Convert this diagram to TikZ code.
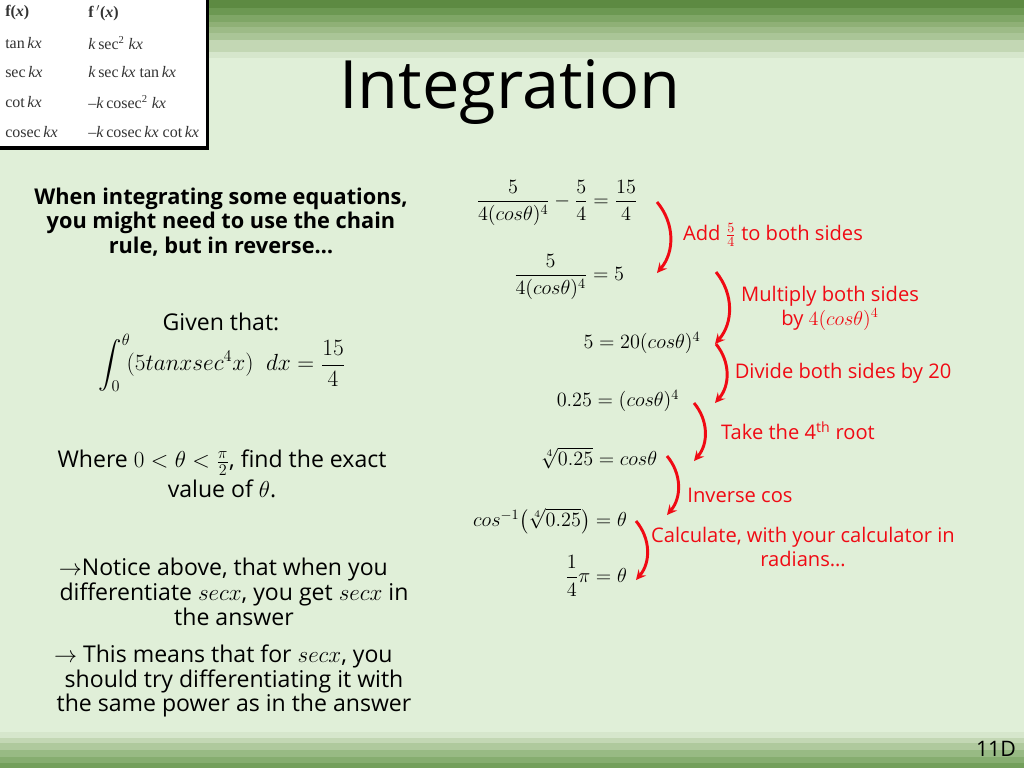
\documentclass[tikz,border=0pt]{standalone}
\usepackage{fix-cm}
\usepackage{amsmath}
\usepackage{amssymb}
\usepackage{fontspec}
\setmainfont{Open Sans}
\newfontfamily\tablefont{Liberation Serif}
\definecolor{slidebg}{HTML}{E0EFD8}
\definecolor{slidered}{HTML}{F00A14}
\definecolor{tablegrey}{HTML}{333333}

\begin{document}
\begin{tikzpicture}[
        x=0.75pt,y=-0.75pt,
        main text/.style={font=\fontsize{17.3}{18.7}\selectfont,align=center,text=black},
        bold text/.style={main text,font=\fontsize{16.3}{18.5}\selectfont\bfseries},
        step text/.style={font=\fontsize{15.1}{18}\selectfont,align=center,text=slidered},
        eqn/.style={font=\fontsize{15.2}{18}\selectfont,text=black,inner sep=0pt},
        table text/.style={font=\fontsize{12}{14}\selectfont\tablefont,text=tablegrey,anchor=west,inner sep=0pt},
        curved/.style={-stealth,draw=slidered,line width=2.2pt,bend left=40},
    ]
    \useasboundingbox (0,0) rectangle (1024,768);
    \fill[slidebg] (0,0) rectangle (1024,768);

    % bands at top and bottom
    \foreach \ya/\yb/\c in {0/8/5D8A42,8/15/6C9852,15/22/7FA666,22/27/8FB076,27/33/9DBB87,33/40/AAC597,40/52/C3D7B4,52/58/D6E6CC,732/738/D6E6CC,738/743/C3D7B4,743/750/AFC99D,750/757/98BA84,757/763/86AD70,763/768/739F5B}{
        \definecolor{bandcol}{HTML}{\c}
        \fill[bandcol] (0,\ya) rectangle (1024,\yb);
    }

    % table
    \fill[white] (-5,-5) rectangle (207,147);
    \draw[line width=2.4pt] (-5,148) -- (207.5,148) -- (207.5,-5);
    \node[table text] (h1) at (5,13) {\textbf{f(\textit{x})}};
    \node[table text] (h2) at (88,13) {\textbf{f\,$'$(\textit{x})}};
    \node[table text] (a1) at (5,43) {tan\,\textit{kx}};
    \node[table text] (a2) at (88,43) {\textit{k}\,sec\textsuperscript{2} \textit{kx}};
    \node[table text] (b1) at (5,72) {sec\,\textit{kx}};
    \node[table text] (b2) at (88,72) {\textit{k}\,sec\,\textit{kx} tan\,\textit{kx}};
    \node[table text] (c1) at (5,102) {cot\,\textit{kx}};
    \node[table text] (c2) at (88,102) {–\textit{k}\,cosec\textsuperscript{2} \textit{kx}};
    \node[table text] (d1) at (5,132) {cosec\,\textit{kx}};
    \node[table text] (d2) at (88,132) {–\textit{k}\,cosec\,\textit{kx} cot\,\textit{kx}};

    \node[font=\fontsize{50}{56}\selectfont] (title) at (510,92) {Integration};
    \node[font=\fontsize{16}{19}\selectfont,inner sep=0pt] (page) at (996,749) {11D};

    % left column
    \node[bold text] (intro) at (221,222) {When integrating some equations,\\you might need to use the chain\\rule, but in reverse…};
    \node[main text] (given) at (221,322) {Given that:};
    \node[eqn,font=\fontsize{17.5}{20}\selectfont] (integral) at (222,363) {$\displaystyle\int_0^\theta\! (5tanxsec^4x)\;\ dx=\frac{15}{4}$};
    \node[main text] (where) at (222,474) {Where $0<\theta<\frac{\pi}{2}$, find the exact\\[2pt]value of $\theta$.};
    \node[main text] (notice) at (234,592) {$\rightarrow$Notice above, that when you\hspace*{16pt}\\differentiate $secx$, you get $secx$ in\\the answer};
    \node[main text] (means) at (234,681) {$\rightarrow$ This means that for $secx$, you\hspace*{16pt}\\should try differentiating it with\\the same power as in the answer};

    % working
    \node[eqn] (e1) at (557,203) {$\dfrac{5}{4(cos\theta)^4}-\dfrac{5}{4}=\dfrac{15}{4}$};
    \node[eqn] (e2) at (569,277) {$\dfrac{5}{4(cos\theta)^4}=5$};
    \node[eqn] (e3) at (642,343) {$5=20(cos\theta)^4$};
    \node[eqn] (e4) at (618,401) {$0.25=(cos\theta)^4$};
    \node[eqn] (e5) at (599,458) {$\sqrt[4]{0.25}=cos\theta$};
    \node[eqn] (e6) at (550,521) {$cos^{-1}\bigl(\sqrt[4]{0.25}\bigr)=\theta$};
    \node[eqn] (e7) at (596,576) {$\dfrac{1}{4}\pi=\theta$};

    % red notes
    \node[step text] (add) at (773,235) {Add $\frac{5}{4}$ to both sides};
    \node[step text] (mult) at (830,308) {Multiply both sides\\by $4(cos\theta)^4$};
    \node[step text] (divide) at (843,373) {Divide both sides by 20};
    \node[step text] (root) at (798,431) {Take the 4\textsuperscript{th} root};
    \node[step text] (inverse) at (740,495) {Inverse cos};
    \node[step text] (calc) at (803,547) {Calculate, with your calculator in\\radians…};

    % arrows
    \foreach \n/\xa/\ya/\xb/\yb in {1/657/202/657/273,2/716/272/715/344,3/716/344/715/403,4/694/403/694/461,5/667/456/667/515,6/636/521/636/580}{
        \coordinate (s\n) at (\xa,\ya);
        \coordinate (t\n) at (\xb,\yb);
        \draw[curved] (s\n) to (t\n);
    }
\end{tikzpicture}
\end{document}
